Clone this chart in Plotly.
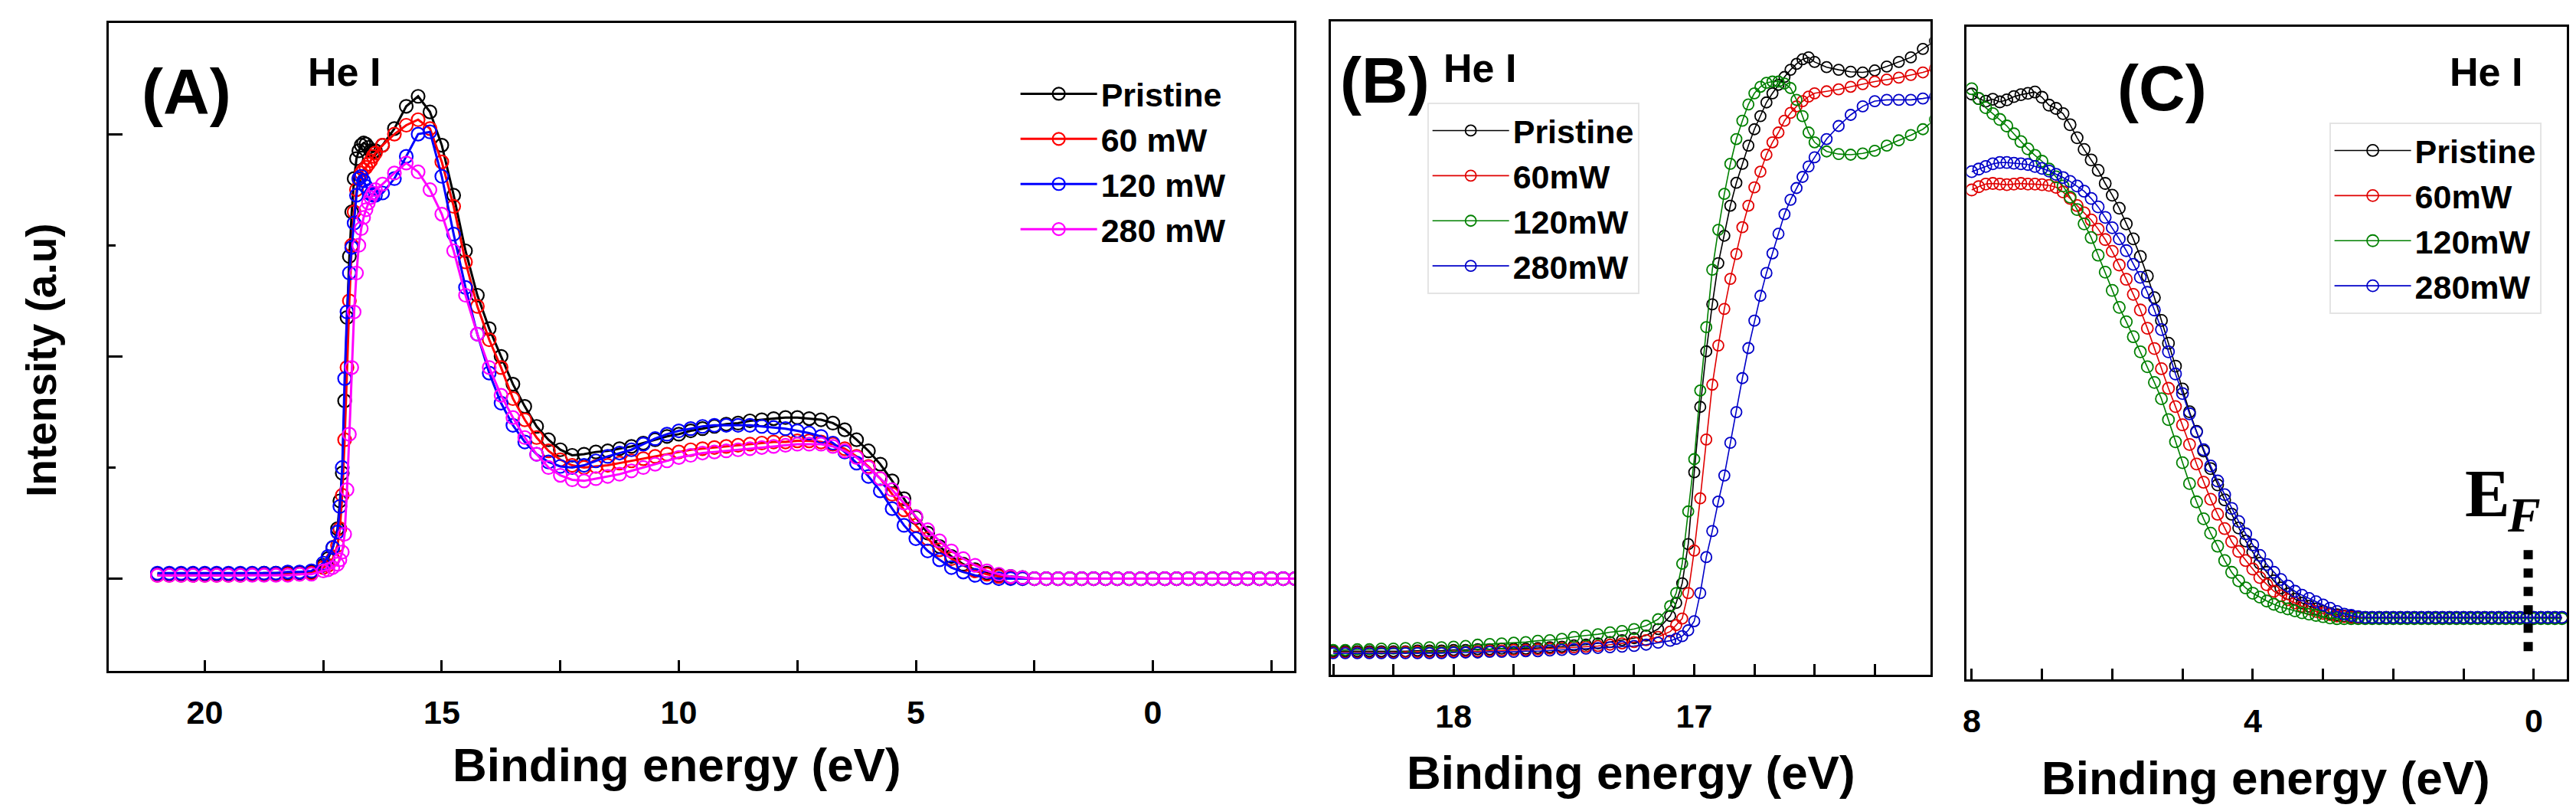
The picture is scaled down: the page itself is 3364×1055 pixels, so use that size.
import plotly.graph_objects as go

W, H = 3364, 1055
SANS = "Liberation Sans, Arial, sans-serif"
SERIF = "Liberation Serif, Times New Roman, serif"

# ---------------- Panel A (wide scan) ----------------
A_ENERGY = [21.0, 20.75, 20.5, 20.25, 20.0, 19.75, 19.5, 19.25, 19.0, 18.75, 18.5, 18.25, 18.0, 17.75, 17.5,
            17.4, 17.3, 17.2, 17.15, 17.1, 17.05, 17.0, 16.95, 16.9, 16.85, 16.8, 16.75, 16.7, 16.65, 16.6,
            16.55, 16.5, 16.45, 16.4,
            16.25, 16.0, 15.75, 15.5, 15.25, 15.0, 14.75, 14.5, 14.25, 14.0, 13.75, 13.5, 13.25, 13.0, 12.75,
            12.5, 12.25, 12.0, 11.75, 11.5, 11.25, 11.0, 10.75, 10.5, 10.25, 10.0, 9.75, 9.5, 9.25, 9.0, 8.75,
            8.5, 8.25, 8.0, 7.75, 7.5, 7.25, 7.0, 6.75, 6.5, 6.25, 6.0, 5.75, 5.5, 5.25, 5.0, 4.75, 4.5, 4.25,
            4.0, 3.75, 3.5, 3.25, 3.0, 2.75,
            2.5, 2.25, 2.0, 1.75, 1.5, 1.25, 1.0, 0.75, 0.5, 0.25, 0.0, -0.25, -0.5, -0.75, -1.0, -1.25, -1.5,
            -1.75, -2.0, -2.25, -2.5, -2.75, -3.0]
A_PRISTINE = [0.04, 0.04, 0.04, 0.04, 0.04, 0.04, 0.04, 0.04, 0.04, 0.05, 0.05, 0.05, 0.05, 0.06, 0.12,
              0.18, 0.28, 0.45, 0.7, 0.95, 1.6, 2.35, 2.9, 3.3, 3.6, 3.78, 3.85, 3.9, 3.92, 3.91,
              3.88, 3.85, 3.84, 3.85,
              3.9, 4.05, 4.25, 4.34, 4.2, 3.9, 3.45, 2.95, 2.55, 2.25, 2.0, 1.75, 1.55, 1.37, 1.25,
              1.16, 1.11, 1.12, 1.14, 1.15, 1.17, 1.19, 1.22, 1.25, 1.28, 1.30, 1.33, 1.35, 1.37, 1.39, 1.40,
              1.42, 1.43, 1.44, 1.45, 1.45, 1.44, 1.43, 1.40, 1.34, 1.25, 1.15, 1.03, 0.88, 0.72, 0.55, 0.41, 0.29, 0.2,
              0.13, 0.08, 0.05, 0.03, 0.02, 0.01,
              0.0, 0.0, 0.0, 0.0, 0.0, 0.0, 0.0, 0.0, 0.0, 0.0, 0.0, 0.0, 0.0, 0.0, 0.0, 0.0, 0.0,
              0.0, 0.0, 0.0, 0.0, 0.0, 0.0]
A_60MW = [0.03, 0.03, 0.03, 0.03, 0.03, 0.03, 0.03, 0.03, 0.04, 0.04, 0.04, 0.04, 0.04, 0.05, 0.1,
          0.12, 0.18, 0.3, 0.45, 0.75, 1.25, 1.9, 2.5, 3.0, 3.3, 3.5, 3.6, 3.65, 3.68, 3.7,
          3.73, 3.76, 3.8, 3.83,
          3.9, 4.0, 4.08, 4.13, 4.05, 3.75, 3.35, 2.85, 2.45, 2.15, 1.9, 1.62, 1.43, 1.27, 1.15,
          1.07, 1.02, 1.0, 1.01, 1.02, 1.04, 1.06, 1.08, 1.1, 1.12, 1.14, 1.16, 1.17, 1.18, 1.19, 1.2,
          1.21, 1.22, 1.23, 1.23, 1.24, 1.24, 1.23, 1.21, 1.17, 1.1, 1.01, 0.9, 0.76, 0.62, 0.48, 0.36, 0.26, 0.18,
          0.12, 0.07, 0.04, 0.02, 0.01, 0.0,
          0.0, 0.0, 0.0, 0.0, 0.0, 0.0, 0.0, 0.0, 0.0, 0.0, 0.0, 0.0, 0.0, 0.0, 0.0, 0.0, 0.0,
          0.0, 0.0, 0.0, 0.0, 0.0, 0.0]
A_120MW = [0.05, 0.05, 0.05, 0.05, 0.05, 0.05, 0.05, 0.05, 0.05, 0.05, 0.05, 0.06, 0.06, 0.07, 0.14,
           0.2, 0.28, 0.42, 0.65, 1.0, 1.8, 2.4, 2.75, 2.98, 3.2, 3.45, 3.6, 3.62, 3.58, 3.53,
           3.49, 3.46, 3.45, 3.45,
           3.47, 3.6, 3.8, 4.0, 4.02, 3.62, 3.1, 2.62, 2.2, 1.85, 1.58, 1.38, 1.23, 1.12, 1.05,
           1.01, 1.0, 1.02, 1.06, 1.1, 1.13, 1.16, 1.21, 1.26, 1.3, 1.33, 1.35, 1.37, 1.38, 1.38, 1.38,
           1.38, 1.37, 1.36, 1.35, 1.33, 1.31, 1.28, 1.22, 1.14, 1.04, 0.92, 0.79, 0.63, 0.48, 0.36, 0.25, 0.17, 0.1,
           0.06, 0.03, 0.01, 0.0, 0.0, 0.0,
           0.0, 0.0, 0.0, 0.0, 0.0, 0.0, 0.0, 0.0, 0.0, 0.0, 0.0, 0.0, 0.0, 0.0, 0.0, 0.0, 0.0,
           0.0, 0.0, 0.0, 0.0, 0.0, 0.0]
A_280MW = [0.03, 0.03, 0.03, 0.03, 0.03, 0.03, 0.03, 0.03, 0.03, 0.03, 0.03, 0.03, 0.04, 0.04, 0.07,
           0.08, 0.1, 0.13, 0.17, 0.24, 0.4, 0.8, 1.3, 1.9, 2.4, 2.75, 3.0, 3.15, 3.25, 3.32,
           3.38, 3.43, 3.47, 3.5,
           3.55, 3.65, 3.74, 3.66, 3.5, 3.28, 2.95, 2.55, 2.2, 1.9, 1.65, 1.45, 1.27, 1.12, 1.0,
           0.93, 0.89, 0.88, 0.9, 0.92, 0.94, 0.97, 1.0, 1.03, 1.06, 1.09, 1.11, 1.13, 1.14, 1.15, 1.16,
           1.17, 1.18, 1.19, 1.2, 1.21, 1.21, 1.21, 1.19, 1.15, 1.09, 1.0, 0.9, 0.8, 0.68, 0.56, 0.44, 0.34, 0.25,
           0.18, 0.12, 0.07, 0.04, 0.02, 0.01,
           0.0, 0.0, 0.0, 0.0, 0.0, 0.0, 0.0, 0.0, 0.0, 0.0, 0.0, 0.0, 0.0, 0.0, 0.0, 0.0, 0.0,
           0.0, 0.0, 0.0, 0.0, 0.0, 0.0]
A_NAMES = ["Pristine", "60 mW", "120 mW", "280 mW"]

# ---------------- Panel B (secondary-electron cutoff) ----------------
B_ENERGY = [18.5, 18.45, 18.4, 18.35, 18.3, 18.25, 18.2, 18.15, 18.1, 18.05, 18.0, 17.95, 17.9, 17.85,
            17.8, 17.75, 17.7, 17.65, 17.6, 17.55, 17.5, 17.45, 17.4, 17.35, 17.3, 17.25, 17.2, 17.15,
            17.1, 17.075, 17.05, 17.025, 17.0, 16.975, 16.95, 16.925, 16.9, 16.875, 16.85, 16.825, 16.8,
            16.775, 16.75, 16.725, 16.7, 16.675, 16.65, 16.625, 16.6, 16.575, 16.55, 16.525, 16.5,
            16.45, 16.4, 16.35, 16.3, 16.25, 16.2, 16.15, 16.1, 16.05, 16.0]
B_PRISTINE = [3.6, 3.6, 3.6, 3.6, 3.6, 3.6, 3.6, 3.7, 3.7, 3.7, 3.8, 3.8, 3.9, 3.9,
              4.0, 4.0, 4.0, 4.1, 4.2, 4.3, 4.5, 4.6, 4.8, 5.0, 5.3, 5.6, 6.0, 7.0,
              9.0, 11.0, 14.0, 20.0, 31.0, 41.0, 49.5, 56.7, 63.0, 67.2, 71.8, 75.3, 78.2,
              81.0, 83.5, 85.5, 87.6, 89.0, 90.3, 91.5, 92.6, 93.5, 94.2, 94.5, 93.8,
              93.0, 92.6, 92.3, 92.2, 92.5, 93.1, 93.8, 94.5, 95.8, 97.0]
B_60MW = [3.4, 3.4, 3.4, 3.4, 3.4, 3.4, 3.5, 3.5, 3.5, 3.5, 3.6, 3.6, 3.6, 3.7,
          3.7, 3.8, 3.8, 3.9, 4.0, 4.1, 4.2, 4.3, 4.4, 4.6, 4.8, 5.0, 5.3, 5.8,
          6.6, 7.6, 8.6, 12.5, 19.0, 27.0, 36.0, 44.4, 50.4, 56.0, 60.6, 64.4, 68.5,
          71.8, 74.6, 77.0, 79.6, 81.5, 83.0, 84.8, 86.0, 87.0, 87.8, 88.5, 89.0,
          89.3, 89.6, 90.0, 90.4, 90.8, 91.1, 91.4, 91.8, 92.2, 92.8]
B_120MW = [3.8, 3.8, 3.9, 3.9, 4.0, 4.0, 4.1, 4.1, 4.2, 4.2, 4.3, 4.4, 4.6, 4.7,
           4.8, 4.9, 5.0, 5.2, 5.3, 5.5, 5.8, 6.0, 6.2, 6.5, 6.7, 7.0, 7.5, 8.5,
           10.5, 12.5, 17.0, 25.0, 33.0, 43.5, 53.2, 62.0, 68.1, 73.6, 78.2, 82.0, 84.8,
           87.3, 89.0, 90.0, 90.6, 90.8, 90.8, 90.5, 89.8, 88.0, 85.5, 83.0, 81.5,
           80.1, 79.7, 79.6, 79.8, 80.2, 81.0, 81.8, 82.6, 83.5, 85.0]
B_280MW = [3.3, 3.3, 3.3, 3.3, 3.3, 3.3, 3.3, 3.3, 3.3, 3.3, 3.4, 3.4, 3.4, 3.5,
           3.5, 3.5, 3.6, 3.6, 3.7, 3.8, 3.9, 4.0, 4.1, 4.2, 4.3, 4.4, 4.6, 4.9,
           5.2, 5.5, 5.9, 6.8, 8.2, 12.5, 18.0, 22.0, 26.5, 30.5, 35.5, 40.2, 45.4,
           50.0, 54.2, 58.0, 61.5, 64.5, 67.5, 70.5, 72.7, 74.5, 76.2, 77.8, 79.2,
           82.0, 84.0, 85.7, 87.0, 87.8, 88.0, 88.0, 88.0, 88.2, 88.5]
BC_NAMES = ["Pristine", "60mW", "120mW", "280mW"]

# ---------------- Panel C (valence band edge) ----------------
C_ENERGY = [8.0, 7.9, 7.8, 7.7, 7.6, 7.5, 7.4, 7.3, 7.2, 7.1, 7.0, 6.9, 6.8, 6.7, 6.6, 6.5, 6.4, 6.3,
            6.2, 6.1, 6.0, 5.9, 5.8, 5.7, 5.6, 5.5,
            5.4, 5.3, 5.2, 5.1, 5.0, 4.9, 4.8, 4.7, 4.6, 4.5, 4.4, 4.3, 4.2, 4.1, 4.0, 3.9, 3.8, 3.7,
            3.6, 3.5, 3.4, 3.3, 3.2, 3.1, 3.0, 2.9, 2.8, 2.7, 2.6, 2.5,
            2.4, 2.3, 2.2, 2.1, 2.0, 1.9, 1.8, 1.7, 1.6, 1.5, 1.4, 1.3, 1.2, 1.1, 1.0, 0.9, 0.8, 0.7,
            0.6, 0.5, 0.4, 0.3, 0.2, 0.1, 0.0, -0.1, -0.2, -0.3, -0.4]
C_PRISTINE = [89.7, 89.0, 88.6, 88.9, 88.5, 88.8, 89.3, 89.6, 89.8, 90.0, 89.2, 88.0, 87.5, 86.7, 85.0,
              83.0, 81.2, 79.6, 78.0, 76.0, 74.2, 72.2, 69.8, 67.5, 64.8, 61.8,
              58.5, 55.0, 51.5, 48.0, 44.5, 41.0, 38.0, 35.0, 32.3, 29.8, 27.5, 25.3, 23.2, 21.2,
              19.5, 17.8, 16.4, 15.1, 14.0, 13.1, 12.3, 11.7, 11.2, 10.8, 10.4, 10.1, 9.9, 9.7, 9.6, 9.5,
              9.5, 9.5, 9.5, 9.5, 9.5, 9.5, 9.5, 9.5, 9.5, 9.5, 9.5, 9.5, 9.5, 9.5, 9.5, 9.5, 9.5, 9.5,
              9.5, 9.5, 9.5, 9.5, 9.5, 9.5, 9.5, 9.5, 9.5, 9.5, 9.5]
C_60MW = [75.0, 75.5, 75.9, 76.0, 75.9, 75.8, 75.9, 76.0, 75.9, 75.9, 75.8, 75.7, 75.4, 74.7, 73.7,
          72.6, 71.5, 70.4, 69.0, 67.4, 65.6, 63.5, 61.3, 59.0, 56.6, 53.8,
          50.7, 47.6, 44.6, 41.8, 39.0, 36.0, 33.0, 30.2, 27.6, 25.3, 23.1, 21.1, 19.6, 18.2,
          16.9, 15.6, 14.5, 13.5, 12.8, 12.2, 11.7, 11.2, 10.8, 10.4, 10.1, 9.9, 9.7, 9.6, 9.5, 9.5,
          9.4, 9.4, 9.4, 9.4, 9.4, 9.4, 9.4, 9.4, 9.4, 9.4, 9.4, 9.4, 9.4, 9.4, 9.4, 9.4, 9.4, 9.4,
          9.4, 9.4, 9.4, 9.4, 9.4, 9.4, 9.4, 9.4, 9.4, 9.4, 9.4]
C_120MW = [90.5, 89.0, 87.6, 86.7, 85.8, 84.8, 83.6, 82.4, 81.3, 80.3, 79.4, 78.2, 77.0, 75.6, 73.9,
           72.0, 69.8, 67.7, 65.0, 62.4, 59.6, 57.0, 54.8, 52.5, 50.2, 47.9,
           45.5, 43.0, 39.8, 36.4, 33.2, 30.0, 27.2, 24.6, 22.4, 20.4, 18.2, 16.4, 15.1, 14.0,
           13.2, 12.6, 12.0, 11.5, 11.1, 10.8, 10.5, 10.2, 10.0, 9.8, 9.6, 9.4, 9.3, 9.3, 9.3, 9.3,
           9.3, 9.3, 9.3, 9.3, 9.3, 9.3, 9.3, 9.3, 9.3, 9.3, 9.3, 9.3, 9.3, 9.3, 9.3, 9.3, 9.3, 9.3,
           9.3, 9.3, 9.3, 9.3, 9.3, 9.3, 9.3, 9.3, 9.3, 9.3, 9.3]
C_280MW = [77.8, 78.2, 78.6, 79.0, 79.2, 79.2, 79.1, 79.0, 78.9, 78.6, 78.3, 77.9, 77.4, 76.9, 76.3,
           75.6, 74.8, 73.7, 72.4, 70.8, 69.2, 67.5, 65.7, 63.6, 61.6, 59.3,
           56.6, 53.6, 50.2, 46.8, 43.8, 40.7, 37.9, 35.2, 32.7, 30.4, 28.3, 26.2, 24.2, 22.3,
           20.6, 19.0, 17.6, 16.4, 15.3, 14.3, 13.5, 12.9, 12.4, 11.9, 11.4, 10.9, 10.4, 10.0, 9.8, 9.6,
           9.5, 9.5, 9.5, 9.5, 9.5, 9.5, 9.5, 9.5, 9.5, 9.5, 9.5, 9.5, 9.5, 9.5, 9.5, 9.5, 9.5, 9.5,
           9.5, 9.5, 9.5, 9.5, 9.5, 9.5, 9.5, 9.5, 9.5, 9.5, 9.5]

# Fermi-level marker (panel C)
EF_ENERGY = [0.08, 0.08]
EF_INTENSITY = [19.8, 4.3]

# ---------------- styles ----------------
A_COLORS = ["#000000", "#ff0000", "#0000ff", "#ff00ff"]
BC_COLORS = ["#000000", "#e00000", "#008000", "#0000c8"]

fig = go.Figure()

for name, ys, col in zip(A_NAMES, [A_PRISTINE, A_60MW, A_120MW, A_280MW], A_COLORS):
    fig.add_trace(go.Scatter(
        x=A_ENERGY, y=ys, name=name, mode="lines+markers", xaxis="x", yaxis="y",
        line=dict(color=col, width=3),
        marker=dict(symbol="circle-open", size=17, color=col, line=dict(width=2.2)),
        legend="legend"))

for name, ys, col in zip(BC_NAMES, [B_PRISTINE, B_60MW, B_120MW, B_280MW], BC_COLORS):
    fig.add_trace(go.Scatter(
        x=B_ENERGY, y=ys, name=name, mode="lines+markers", xaxis="x2", yaxis="y2",
        line=dict(color=col, width=1.6),
        marker=dict(symbol="circle-open", size=14, color=col, line=dict(width=1.8)),
        legend="legend2"))

for name, ys, col in zip(BC_NAMES, [C_PRISTINE, C_60MW, C_120MW, C_280MW], BC_COLORS):
    fig.add_trace(go.Scatter(
        x=C_ENERGY, y=ys, name=name, mode="lines+markers", xaxis="x3", yaxis="y3",
        line=dict(color=col, width=1.6),
        marker=dict(symbol="circle-open", size=15, color=col, line=dict(width=1.8)),
        legend="legend3"))

fig.add_trace(go.Scatter(
    x=EF_ENERGY, y=EF_INTENSITY, mode="lines", xaxis="x3", yaxis="y3", showlegend=False,
    line=dict(color="black", width=12, dash="12px,12px"), hoverinfo="skip"))


def px(x):
    return x / W


def py(y):
    return 1 - y / H


tickfont = dict(family=SANS, size=43, color="black", weight="bold")


def xaxis(domain, rng, dtick, mdtick, anchor):
    return dict(domain=domain, range=rng, anchor=anchor, showline=True, linecolor="black", linewidth=3,
                mirror=True, ticks="inside", ticklen=14, tickwidth=2.5, tickcolor="black", dtick=dtick,
                tick0=0, minor=dict(dtick=mdtick, ticks="inside", ticklen=14, tickwidth=2.5, tickcolor="black",
                                    showgrid=False),
                showgrid=False, zeroline=False, tickfont=tickfont, ticklabelstandoff=14)


def yaxis(domain, rng, anchor, ticks):
    d = dict(domain=domain, range=rng, anchor=anchor, showline=True, linecolor="black", linewidth=3,
             mirror=True, showgrid=False, zeroline=False, showticklabels=False)
    if ticks:
        d.update(ticks="inside", ticklen=18, tickwidth=2.5, tickcolor="black", dtick=2, tick0=0,
                 minor=dict(dtick=1, ticks="inside", ticklen=9, tickwidth=2.5, tickcolor="black",
                            showgrid=False))
    else:
        d.update(ticks="")
    return d


legfont = dict(family=SANS, size=43, color="black", weight="bold")

fig.update_layout(
    width=W, height=H, margin=dict(l=0, r=0, t=0, b=0),
    paper_bgcolor="white", plot_bgcolor="white",
    xaxis=xaxis([px(128), px(1679)], [22.03, -2.98], 5, 2.5, "y"),
    yaxis=yaxis([py(868), py(22)], [-0.83, 5.0], "x", True),
    xaxis2=xaxis([px(1727), px(2511)], [18.51, 16.02], 1, 0.25, "y2"),
    yaxis2=yaxis([py(873), py(20)], [0, 100], "x2", False),
    xaxis3=xaxis([px(2559), px(3344)], [8.07, -0.47], 4, 1, "y3"),
    yaxis3=yaxis([py(879), py(27)], [0, 100], "x3", False),
    legend=dict(x=px(1316), y=py(80), xanchor="left", yanchor="top", font=legfont,
                bgcolor="rgba(0,0,0,0)", borderwidth=0, itemwidth=100, tracegroupgap=0),
    legend2=dict(x=px(1853), y=py(126), xanchor="left", yanchor="top", font=legfont,
                 bgcolor="white", bordercolor="#e4e4e4", borderwidth=2, itemwidth=100, tracegroupgap=0),
    legend3=dict(x=px(3033), y=py(152), xanchor="left", yanchor="top", font=legfont,
                 bgcolor="white", bordercolor="#e4e4e4", borderwidth=2, itemwidth=100, tracegroupgap=0),
)

ann = []


def label(text, x, y, size, family=SANS, angle=0, style="normal"):
    ann.append(dict(text=text, x=px(x), y=py(y), xref="paper", yref="paper", showarrow=False,
                    xanchor="center", yanchor="middle", textangle=angle,
                    font=dict(family=family, size=size, color="black", weight="bold", style=style)))


label("(A)", 230, 112, 84)
label("He I", 436, 86, 52)
label("(B)", 1798, 97, 84)
label("He I", 1922, 81, 52)
label("(C)", 2815, 107, 84)
label("He I", 3238, 86, 52)
label("Binding energy (eV)", 872, 990, 62)
label("Binding energy (eV)", 2120, 1000, 62)
label("Binding energy (eV)", 2950, 1007, 62)
label("Intensity (a.u)", 40, 462, 55, angle=-90)
label("E", 3240, 636, 88, family=SERIF)
label("F", 3288, 664, 64, family=SERIF, style="italic")

fig.update_layout(annotations=ann)
fig.write_html("out.html")
